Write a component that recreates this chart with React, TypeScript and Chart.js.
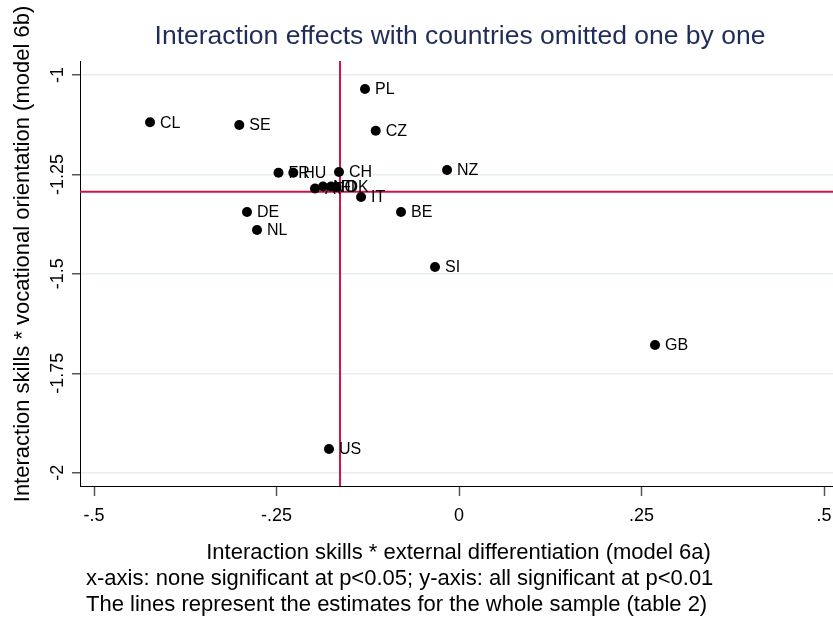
import React, { useEffect, useRef } from "react";
import { Chart, registerables } from "chart.js";

Chart.register(...registerables);

const countries = ["PL", "CL", "SE", "CZ", "NZ", "FR", "HU", "CH", "AT", "NO", "FI", "DK", "IT", "DE", "BE", "NL", "SI", "GB", "US"];
const xValues = [-0.1288, -0.4233, -0.301, -0.1141, -0.0164, -0.2473, -0.227, -0.1644, -0.1973, -0.1863, -0.1753, -0.1678, -0.1342, -0.2904, -0.0795, -0.2767, -0.0329, 0.2685, -0.1781];
const yValues = [-1.0352, -1.1189, -1.1257, -1.1401, -1.2389, -1.2457, -1.2457, -1.2439, -1.2854, -1.2804, -1.2804, -1.2816, -1.3068, -1.3445, -1.3445, -1.3897, -1.4828, -1.6789, -1.9404];

const wholeSampleX = -0.163;
const wholeSampleY = -1.2934;

const xTicks = [-0.5, -0.25, 0, 0.25, 0.5];
const xTickLabels = ["-.5", "-.25", "0", ".25", ".5"];
const yTicks = [-1, -1.25, -1.5, -1.75, -2];
const yTickLabels = ["-1", "-1.25", "-1.5", "-1.75", "-2"];

const xRange = [-0.5192, 0.5123];
const yRange = [-2.0334, -0.9648];

const titleText = "Interaction effects with countries omitted one by one";
const xTitle = "Interaction skills * external differentiation (model 6a)";
const yTitle = "Interaction skills * vocational orientation (model 6b)";
const notes = [
  "x-axis: none significant at p<0.05; y-axis: all significant at p<0.01",
  "The lines represent the estimates for the whole sample (table 2)",
];

const FONT = '"Liberation Sans", Arial, sans-serif';

const labelPlugin = {
  id: "pointLabels",
  afterDatasetsDraw(chart: any) {
    const ctx = chart.ctx;
    const meta = chart.getDatasetMeta(0);
    ctx.save();
    ctx.fillStyle = "#000";
    ctx.font = `16px ${FONT}`;
    ctx.textAlign = "left";
    ctx.textBaseline = "middle";
    meta.data.forEach((el: any, i: number) => {
      ctx.fillText(countries[i], el.x + 10, el.y + 1);
    });
    ctx.restore();
  },
};

const textPlugin = {
  id: "texts",
  afterDraw(chart: any) {
    const ctx = chart.ctx;
    const area = chart.chartArea;
    const yScale = chart.scales.y;
    ctx.save();
    // title
    ctx.fillStyle = "#1f2d58";
    ctx.font = `26.5px ${FONT}`;
    ctx.textAlign = "center";
    ctx.textBaseline = "alphabetic";
    ctx.fillText(titleText, 460, 44);

    // y tick labels (vertical)
    ctx.fillStyle = "#000";
    ctx.font = `18px ${FONT}`;
    yTicks.forEach((v, i) => {
      const py = yScale.getPixelForValue(v);
      ctx.save();
      ctx.translate(area.left - 22, py);
      ctx.rotate(-Math.PI / 2);
      ctx.textAlign = "center";
      ctx.textBaseline = "middle";
      ctx.fillText(yTickLabels[i], 0, 0);
      ctx.restore();
    });

    // axis titles
    ctx.font = `22px ${FONT}`;
    ctx.textAlign = "center";
    ctx.textBaseline = "alphabetic";
    ctx.fillText(xTitle, (area.left + area.right) / 2 + 2, 559);

    ctx.save();
    ctx.translate(29, 254);
    ctx.rotate(-Math.PI / 2);
    ctx.textAlign = "center";
    ctx.textBaseline = "alphabetic";
    ctx.fillText(yTitle, 0, 0);
    ctx.restore();

    // notes
    ctx.textAlign = "left";
    notes.forEach((n, i) => {
      ctx.fillText(n, 86, 585 + i * 26);
    });
    ctx.restore();
  },
};

export default function App() {
  const canvasRef = useRef<HTMLCanvasElement | null>(null);

  useEffect(() => {
    document.body.style.margin = "0";
    const canvas = canvasRef.current;
    if (!canvas) return;
    const points = xValues.map((x, i) => ({ x, y: yValues[i] }));
    const chart = new Chart(canvas, {
      type: "scatter",
      data: {
        datasets: [
          {
            type: "scatter",
            data: points,
            pointRadius: 5,
            pointHoverRadius: 5,
            pointBackgroundColor: "#000",
            pointBorderWidth: 0,
            borderWidth: 0,
            order: 1,
          } as any,
          {
            type: "line",
            data: [
              { x: wholeSampleX, y: yRange[0] },
              { x: wholeSampleX, y: yRange[1] },
            ],
            borderColor: "#cc1447",
            borderWidth: 2,
            pointRadius: 0,
            fill: false,
            order: 2,
          } as any,
          {
            type: "line",
            data: [
              { x: xRange[0], y: wholeSampleY },
              { x: xRange[1], y: wholeSampleY },
            ],
            borderColor: "#cc1447",
            borderWidth: 2,
            pointRadius: 0,
            fill: false,
            order: 2,
          } as any,
        ],
      },
      options: {
        animation: false,
        responsive: false,
        devicePixelRatio: 1,
        layout: { padding: { top: 61, left: 0, right: 0, bottom: 0 }, autoPadding: false } as any,
        plugins: {
          legend: { display: false },
          tooltip: { enabled: false },
          title: { display: false },
        },
        scales: {
          x: {
            type: "linear",
            min: xRange[0],
            max: xRange[1],
            afterBuildTicks: (s: any) => {
              s.ticks = xTicks.map((v) => ({ value: v }));
            },
            afterFit: (s: any) => {
              s.height = 135;
              s.paddingLeft = 0;
              s.paddingRight = 0;
            },
            ticks: {
              autoSkip: false,
              maxRotation: 0,
              minRotation: 0,
              padding: 9,
              color: "#000",
              font: { family: FONT, size: 18 },
              callback: (v: any) => {
                const idx = xTicks.indexOf(Number(v));
                return idx >= 0 ? xTickLabels[idx] : "";
              },
            },
            grid: {
              display: true,
              drawOnChartArea: false,
              drawTicks: true,
              tickLength: 10,
              tickColor: "#555",
              tickWidth: 1.5,
            },
            border: { display: true, color: "#000", width: 1 },
          },
          y: {
            type: "linear",
            min: yRange[0],
            max: yRange[1],
            afterBuildTicks: (s: any) => {
              s.ticks = yTicks.map((v) => ({ value: v }));
            },
            afterFit: (s: any) => {
              s.width = 80;
              s.paddingTop = 0;
              s.paddingBottom = 0;
            },
            ticks: {
              autoSkip: false,
              color: "rgba(0,0,0,0)",
              font: { family: FONT, size: 18 },
            },
            grid: {
              display: true,
              drawOnChartArea: true,
              drawTicks: true,
              tickLength: 8,
              color: "#e6eef1",
              lineWidth: 1.5,
              tickColor: "#555",
              tickWidth: 1.5,
            },
            border: { display: true, color: "#000", width: 1 },
          },
        },
      },
      plugins: [labelPlugin, textPlugin],
    });
    return () => chart.destroy();
  }, []);

  return (
    <div style={{ position: "absolute", left: 0, top: 0, width: 833, height: 621, background: "#fff" }}>
      <canvas ref={canvasRef} width={833} height={621} style={{ width: 833, height: 621, display: "block" }} />
    </div>
  );
}
